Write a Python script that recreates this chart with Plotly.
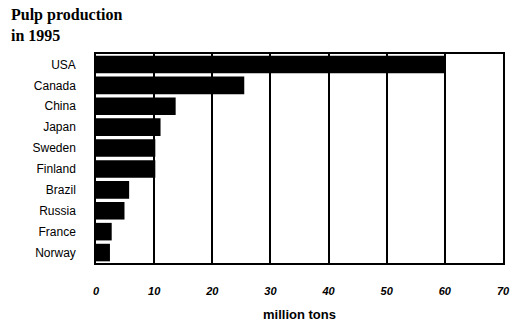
import plotly.graph_objects as go

countries = ["USA", "Canada", "China", "Japan", "Sweden", "Finland", "Brazil", "Russia", "France", "Norway"]
production = [60.0, 25.5, 13.7, 11.1, 10.2, 10.2, 5.7, 4.9, 2.7, 2.4]
x_ticks = [0, 10, 20, 30, 40, 50, 60, 70]

fig = go.Figure(go.Bar(
    x=production, y=countries, orientation="h",
    marker=dict(color="black", line=dict(width=0)),
    width=0.84,
))

fig.update_layout(
    width=510, height=327,
    margin=dict(l=96, r=7, t=54, b=64),
    paper_bgcolor="white", plot_bgcolor="white",
    showlegend=False,
    font=dict(family="Liberation Sans", color="black"),
    xaxis=dict(
        range=[0, 70], tickvals=x_ticks, ticktext=[str(v) for v in x_ticks],
        automargin=False, ticklabeloverflow="allow",
        showgrid=True, gridcolor="black", gridwidth=1.5,
        showline=True, linecolor="black", linewidth=1.5, mirror=True,
        zeroline=False, ticks="", ticklabelstandoff=17,
        tickfont=dict(family="Liberation Sans", size=11, style="italic", weight="bold", color="black"),
        title=dict(text="million tons", font=dict(family="Liberation Sans", size=13, weight="bold", color="black"), standoff=14),
    ),
    yaxis=dict(
        autorange="reversed", range=[-0.5, 9.5], automargin=False,
        showgrid=False, showline=True, linecolor="black", linewidth=1.5, mirror=True,
        ticks="", ticklabelstandoff=16,
        tickfont=dict(family="Liberation Sans", size=12, color="black"),
    ),
    annotations=[dict(
        text="Pulp production<br>in 1995", xref="paper", yref="paper",
        x=-87/407, y=1 + 50/209, xanchor="left", yanchor="top", align="left", showarrow=False,
        font=dict(family="Liberation Serif", size=16, weight="bold", color="black"),
    )],
)

fig.write_html("out.html", config={"displayModeBar": False},
               post_script="document.body.style.margin='0';document.body.style.overflow='hidden';")
